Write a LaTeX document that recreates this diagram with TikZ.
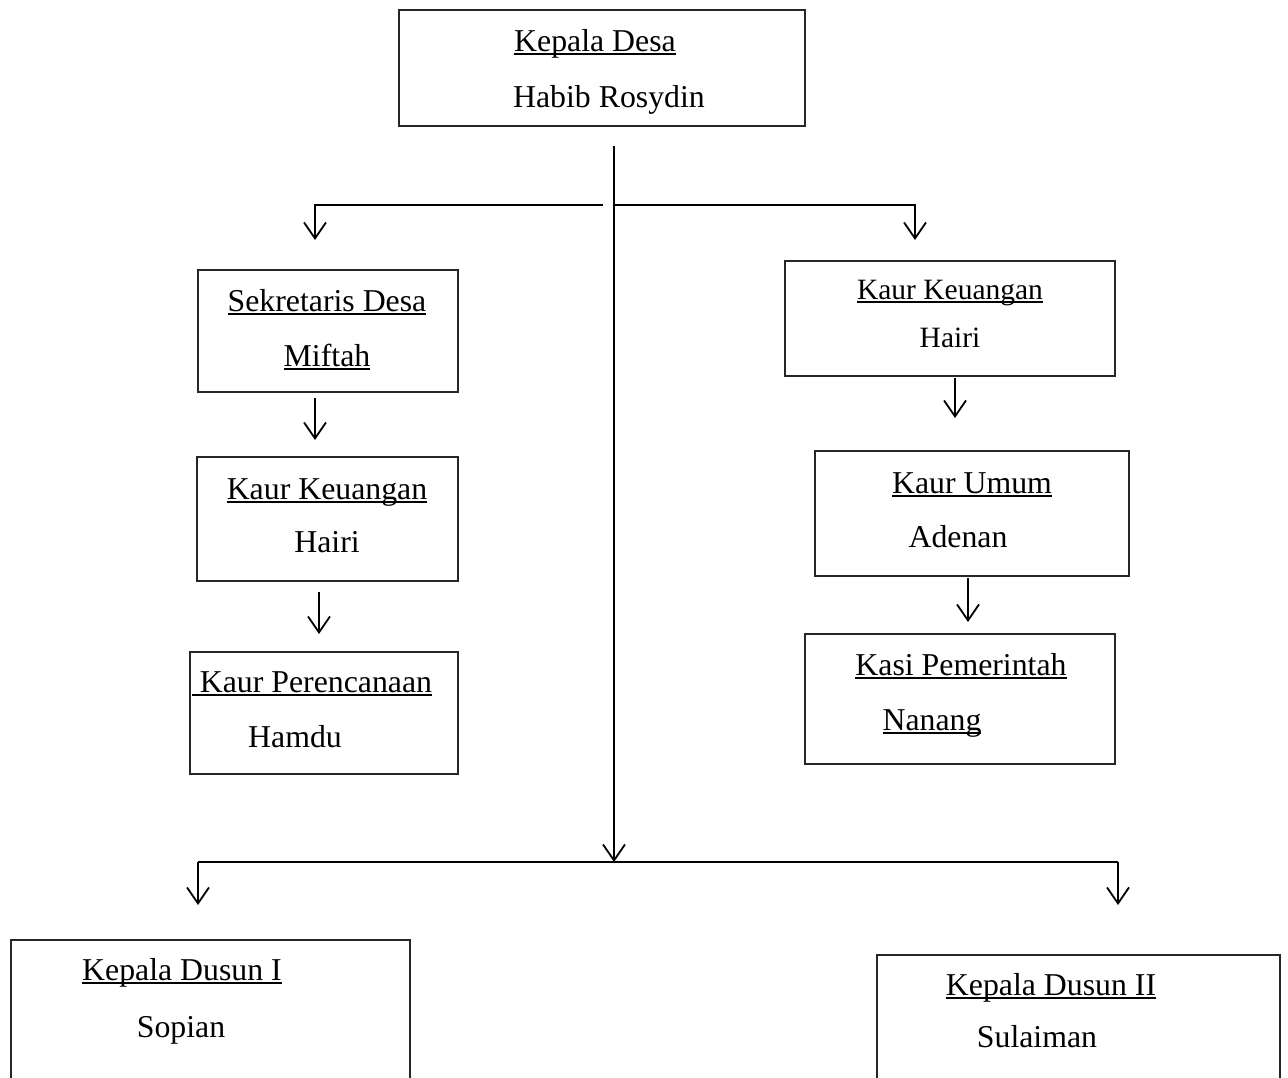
\documentclass[tikz,border=0pt]{standalone}
\usepackage{fontspec}
\setmainfont{Liberation Serif}
\usetikzlibrary{arrows.meta}
\newcommand\undl[1]{\setbox0\hbox{#1}\rlap{\rule[-3.5pt]{\wd0}{1.8pt}}\box0}
\begin{document}
\begin{tikzpicture}[x=1pt,y=-1pt,
  box/.style={draw=black!85, line width=1.5pt, inner sep=0pt, outer sep=0pt},
  lbl/.style={anchor=base, inner sep=0pt, font=\fontsize{31.8}{38}\selectfont},
  lbls/.style={anchor=base, inner sep=0pt, font=\fontsize{29.5}{36}\selectfont},
  conn/.style={line width=1.8pt},
  arr/.style={line width=1.8pt, -{Straight Barb[length=16pt,width=22pt,line width=1.8pt]}}]
\useasboundingbox (0,0) rectangle (1288,1077);
\clip (0,0) rectangle (1288,1077);
% boxes
\node[box, minimum width=406pt, minimum height=116pt] (kd) at (602,68) {};
\node[box, minimum width=260pt, minimum height=122pt] (sek) at (328,331) {};
\node[box, minimum width=261pt, minimum height=124pt] (kkl) at (327.5,519) {};
\node[box, minimum width=268pt, minimum height=122pt] (kp) at (324,713) {};
\node[box, minimum width=330pt, minimum height=115pt] (kkr) at (950,318.5) {};
\node[box, minimum width=314pt, minimum height=125pt] (ku) at (972,513.5) {};
\node[box, minimum width=310pt, minimum height=130pt] (ks) at (960,699) {};
\node[box, minimum width=399pt, minimum height=160pt] (kd1) at (210.5,1020) {};
\node[box, minimum width=403pt, minimum height=145pt] (kd2) at (1078.5,1027.5) {};
% texts
\node[lbl] (t1) at (595,51) {\undl{Kepala Desa}};
\node[lbl] (t2) at (609,107) {Habib Rosydin};
\node[lbl] (t3) at (327,311) {\undl{Sekretaris Desa}};
\node[lbl] (t4) at (327,366) {\undl{Miftah}};
\node[lbl] (t5) at (327,499) {\undl{Kaur Keuangan}};
\node[lbl] (t6) at (327,552) {Hairi};
\node[lbl] (t7) at (312,692) {\undl{\hspace{8pt}Kaur Perencanaan}};
\node[lbl] (t8) at (295,747) {Hamdu};
\node[lbls] (t9) at (950,299) {\undl{Kaur Keuangan}};
\node[lbls] (t10) at (950,347) {Hairi};
\node[lbl] (t11) at (972,493) {\undl{Kaur Umum}};
\node[lbl] (t12) at (958,547) {Adenan};
\node[lbl] (t13) at (961,675) {\undl{Kasi Pemerintah}};
\node[lbl] (t14) at (932,730) {\undl{Nanang}};
\node[lbl] (t15) at (182,980) {\undl{Kepala Dusun I}};
\node[lbl] (t16) at (181,1037) {Sopian};
\node[lbl] (t17) at (1051,995) {\undl{Kepala Dusun II}};
\node[lbl] (t18) at (1037,1047) {Sulaiman};
% connector points
\coordinate (vtop) at (614,146);
\coordinate (vbot) at (614,862);
\coordinate (lstart) at (603,205);
\coordinate (lend) at (315,240);
\coordinate (rstart) at (614,205);
\coordinate (rend) at (915,240);
\coordinate (a1s) at (315,398); \coordinate (a1e) at (315,440);
\coordinate (a2s) at (319,592); \coordinate (a2e) at (319,634);
\coordinate (a3s) at (955,378); \coordinate (a3e) at (955,418);
\coordinate (a4s) at (968,578); \coordinate (a4e) at (968,622);
\coordinate (bl) at (198,862); \coordinate (br) at (1118,862);
\coordinate (ble) at (198,905); \coordinate (bre) at (1118,905);
% connectors
\draw[arr] (vtop) -- (vbot);
\draw[arr] (lstart) -| (lend);
\draw[arr] (rstart) -| (rend);
\draw[arr] (a1s) -- (a1e);
\draw[arr] (a2s) -- (a2e);
\draw[arr] (a3s) -- (a3e);
\draw[arr] (a4s) -- (a4e);
\draw[conn] (bl) -- (br);
\draw[arr] (bl) -- (ble);
\draw[arr] (br) -- (bre);
\end{tikzpicture}
\end{document}
